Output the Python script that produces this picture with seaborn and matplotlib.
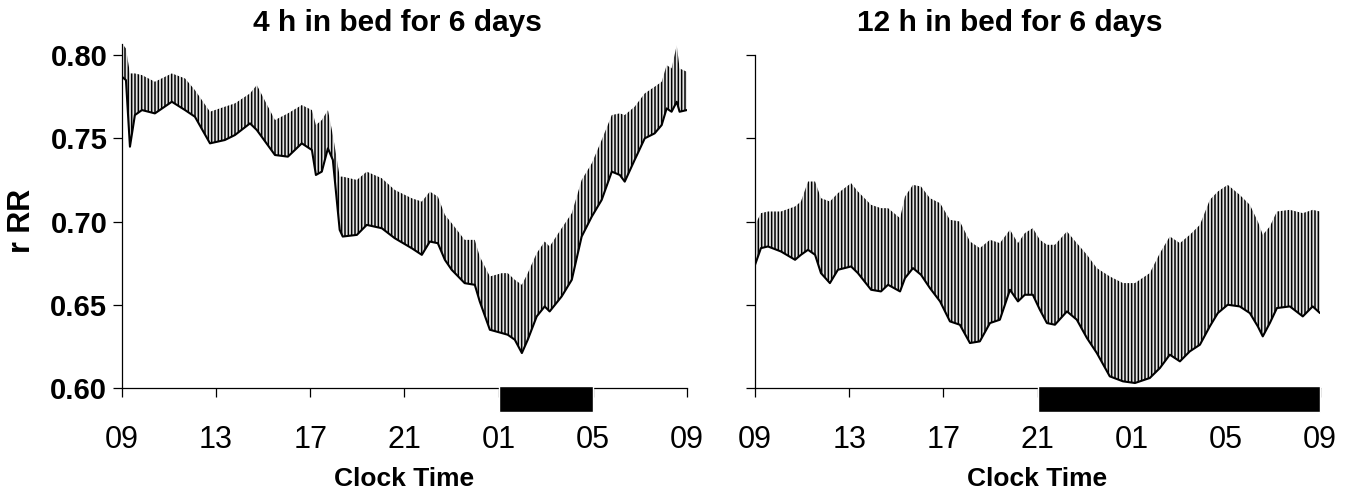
import numpy as np
import pandas as pd
import matplotlib
matplotlib.use("Agg")
import matplotlib.pyplot as plt
import seaborn as sns

# ---------------- data ----------------
# hours elapsed since 09:00
hours_4h = [0.00, 0.17, 0.34, 0.55, 0.85, 1.40, 2.12, 2.68, 3.10, 3.74, 4.37, 4.80, 5.44, 5.73,
            6.50, 7.05, 7.64, 8.07, 8.24, 8.49, 8.75, 8.96, 9.25, 9.38, 9.98, 10.40, 11.04, 11.59,
            12.31, 12.74, 13.08, 13.42, 13.72, 14.01, 14.56, 14.99, 15.20, 15.63, 16.14, 16.39,
            16.69, 16.99, 17.24, 17.62, 17.96, 18.17, 18.68, 19.11, 19.53, 19.96, 20.38, 20.81,
            21.15, 21.36, 21.78, 22.21, 22.63, 22.93, 23.14, 23.35, 23.57, 23.69, 24.00]
lower_4h = [0.787, 0.785, 0.745, 0.764, 0.767, 0.765, 0.772, 0.767, 0.763, 0.747, 0.749, 0.752,
            0.759, 0.755, 0.740, 0.739, 0.747, 0.743, 0.728, 0.730, 0.744, 0.737, 0.695, 0.691,
            0.692, 0.698, 0.696, 0.690, 0.684, 0.680, 0.688, 0.687, 0.677, 0.671, 0.663, 0.662,
            0.652, 0.635, 0.633, 0.632, 0.629, 0.621, 0.629, 0.643, 0.649, 0.646, 0.655, 0.665,
            0.691, 0.703, 0.713, 0.730, 0.728, 0.724, 0.737, 0.750, 0.753, 0.758, 0.768, 0.766,
            0.772, 0.766, 0.767]
upper_4h = [0.807, 0.804, 0.789, 0.789, 0.788, 0.784, 0.789, 0.786, 0.779, 0.766, 0.769, 0.771,
            0.777, 0.782, 0.761, 0.765, 0.770, 0.767, 0.758, 0.761, 0.767, 0.752, 0.727, 0.727,
            0.725, 0.730, 0.726, 0.719, 0.714, 0.712, 0.718, 0.715, 0.704, 0.699, 0.689, 0.689,
            0.679, 0.667, 0.669, 0.669, 0.665, 0.662, 0.669, 0.681, 0.688, 0.685, 0.696, 0.705,
            0.725, 0.735, 0.749, 0.764, 0.765, 0.764, 0.769, 0.777, 0.781, 0.784, 0.794, 0.792,
            0.806, 0.792, 0.790]

hours_12h = [0.00, 0.25, 0.55, 1.10, 1.70, 1.95, 2.25, 2.55, 2.80, 3.18, 3.52, 4.08, 4.37, 4.93,
             5.35, 5.65, 6.16, 6.37, 6.71, 7.05, 7.43, 7.86, 8.28, 8.70, 9.13, 9.55, 9.98, 10.40,
             10.83, 11.17, 11.46, 11.80, 12.10, 12.40, 12.74, 13.25, 13.67, 14.10, 14.52, 15.07,
             15.63, 16.14, 16.77, 17.20, 17.62, 18.05, 18.47, 18.90, 19.32, 19.66, 20.08, 20.59,
             21.02, 21.36, 21.57, 21.87, 22.17, 22.72, 23.27, 23.69, 24.00]
lower_12h = [0.674, 0.684, 0.685, 0.682, 0.677, 0.680, 0.683, 0.680, 0.669, 0.663, 0.671, 0.673,
             0.669, 0.659, 0.658, 0.662, 0.658, 0.666, 0.672, 0.668, 0.660, 0.652, 0.640, 0.638,
             0.627, 0.628, 0.639, 0.641, 0.659, 0.652, 0.656, 0.656, 0.647, 0.639, 0.638, 0.646,
             0.641, 0.630, 0.621, 0.607, 0.604, 0.603, 0.606, 0.612, 0.620, 0.616, 0.622, 0.626,
             0.637, 0.645, 0.650, 0.649, 0.645, 0.637, 0.631, 0.639, 0.648, 0.649, 0.643, 0.649,
             0.645]
upper_12h = [0.698, 0.705, 0.706, 0.706, 0.709, 0.712, 0.724, 0.724, 0.714, 0.712, 0.717, 0.723,
             0.718, 0.710, 0.708, 0.708, 0.702, 0.715, 0.722, 0.721, 0.714, 0.711, 0.701, 0.700,
             0.688, 0.684, 0.689, 0.687, 0.695, 0.687, 0.693, 0.696, 0.689, 0.686, 0.686, 0.694,
             0.687, 0.680, 0.672, 0.667, 0.663, 0.663, 0.669, 0.681, 0.691, 0.687, 0.692, 0.698,
             0.713, 0.718, 0.722, 0.716, 0.710, 0.700, 0.692, 0.697, 0.706, 0.707, 0.705, 0.707,
             0.706]

sleep_4h = [16, 20]     # 01:00 - 05:00
sleep_12h = [12, 24]    # 21:00 - 09:00

titles = ["4 h in bed for 6 days", "12 h in bed for 6 days"]
xtick_pos = [0, 4, 8, 12, 16, 20, 24]
xtick_labels = ["09", "13", "17", "21", "01", "05", "09"]
ytick_pos = [0.60, 0.65, 0.70, 0.75, 0.80]
ytick_labels = ["0.60", "0.65", "0.70", "0.75", "0.80"]

# ---------------- style ----------------
sns.set_style("ticks")
plt.rcParams["font.family"] = ["Liberation Sans", "DejaVu Sans"]
plt.rcParams["hatch.linewidth"] = 1.1
plt.rcParams["hatch.color"] = "black"
plt.rcParams["text.color"] = "black"
plt.rcParams["axes.labelcolor"] = "black"

fig = plt.figure(figsize=(13.58, 5.0), dpi=100)
ax1 = fig.add_axes([0.0898, 0.224, 0.416, 0.689])
ax2 = fig.add_axes([0.556, 0.224, 0.416, 0.666])

panels = [
    (ax1, hours_4h, lower_4h, upper_4h, sleep_4h, 0.807, True),
    (ax2, hours_12h, lower_12h, upper_12h, sleep_12h, 0.800, False),
]

for ax, hrs, lo, up, sleep, ytop, show_ylabels in panels:
    df = pd.DataFrame({"h": hrs, "lo": lo, "up": up})
    ax.fill_between(df["h"], df["lo"], df["up"], facecolor="#e4e4e4",
                    edgecolor="black", hatch="|||||", linewidth=0, zorder=2)
    sns.lineplot(data=df, x="h", y="lo", ax=ax, color="black", linewidth=1.5,
                 estimator=None, sort=False, zorder=3)
    ax.bar(x=sleep[0], height=0.0156, width=sleep[1] - sleep[0], bottom=0.5856,
           align="edge", color="black", clip_on=False, zorder=5)

    ax.set_xlim(0, 24)
    ax.set_ylim(0.60, ytop)
    ax.set_xticks(xtick_pos)
    ax.set_xticklabels(xtick_labels, fontsize=22)
    ax.set_yticks(ytick_pos)
    if show_ylabels:
        ax.set_yticklabels(ytick_labels, fontsize=21, fontweight="bold")
    else:
        ax.set_yticklabels([])
    ax.tick_params(axis="x", direction="out", length=6.5, width=0.9, pad=20, colors="black")
    ax.tick_params(axis="y", direction="out", length=6.5, width=0.9, pad=4, colors="black")
    for s in ["top", "right"]:
        ax.spines[s].set_visible(False)
    for s in ["left", "bottom"]:
        ax.spines[s].set_linewidth(0.9)
        ax.spines[s].set_color("black")
    ax.set_xlabel("Clock Time", fontsize=19, fontweight="bold")
    ax.set_ylabel("")

ax1.xaxis.set_label_coords(0.5, -0.230)
ax2.xaxis.set_label_coords(0.5, -0.238)
ax1.set_ylabel("r RR", fontsize=22, fontweight="bold")
ax1.yaxis.set_label_coords(-0.150, 0.484)

fig.text(0.2923, 0.954, titles[0], fontsize=21.5, fontweight="bold", ha="center", va="center")
fig.text(0.7437, 0.954, titles[1], fontsize=21.5, fontweight="bold", ha="center", va="center")

fig.savefig("out.png", dpi=100, facecolor="white")
